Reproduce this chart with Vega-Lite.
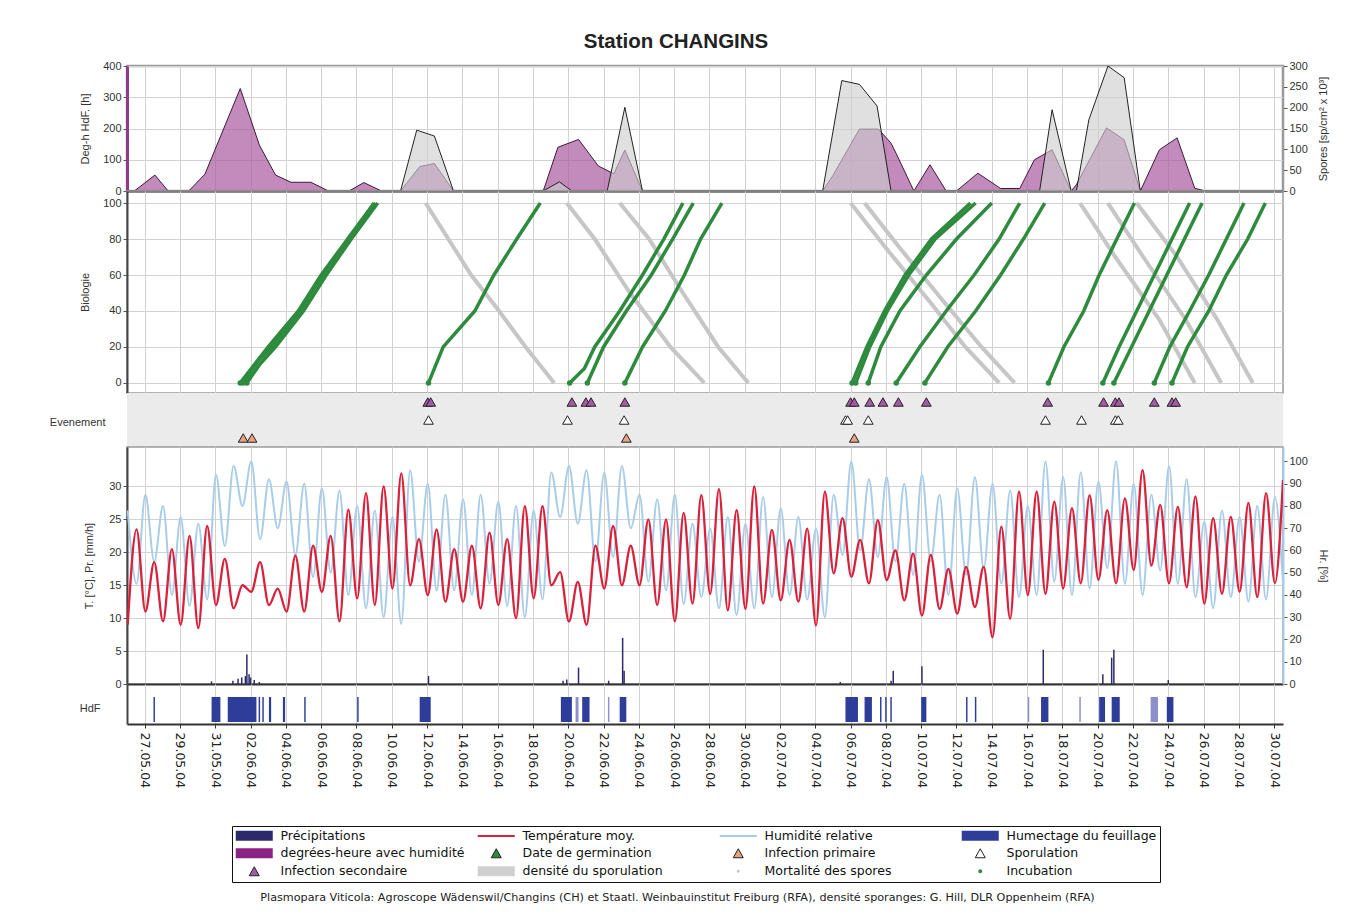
{
  "$schema": "https://vega.github.io/schema/vega-lite/v6.json",
  "padding": {"left": 49, "top": 32, "right": 5, "bottom": 5},
  "background": "#ffffff",
  "title": {"text": "Station CHANGINS", "frame": "group", "anchor": "middle", "dx": -29, "offset": 6, "font": "Liberation Sans", "fontSize": 20.5, "fontWeight": "bold", "color": "#222"},
  "spacing": 0,
  "bounds": "flush",
  "config": {
    "font": "Liberation Sans",
    "view": {"stroke": "#9a9a9a", "strokeWidth": 1.5},
    "axis": {"labelFont": "Liberation Sans", "labelFontSize": 11, "labelColor": "#333", "titleFont": "Liberation Sans", "titleFontSize": 11, "titleFontWeight": "normal", "titleColor": "#333", "gridColor": "#d2d2d2", "gridWidth": 1, "tickColor": "#555", "tickSize": 4, "domainColor": "#555", "labelOverlap": false}
  },
  "datasets": {
    "deg": [
      {"date": "2004-05-26T00:00", "v": 0}, {"date": "2004-05-26T10:00", "v": 0}, {"date": "2004-05-27T14:00", "v": 51}, {"date": "2004-05-28T08:00", "v": 0},
      {"date": "2004-05-29T12:00", "v": 0}, {"date": "2004-05-30T10:00", "v": 54}, {"date": "2004-06-01T10:00", "v": 328}, {"date": "2004-06-02T12:00", "v": 147},
      {"date": "2004-06-03T10:00", "v": 51}, {"date": "2004-06-04T07:00", "v": 28}, {"date": "2004-06-05T10:00", "v": 28}, {"date": "2004-06-06T10:00", "v": 0},
      {"date": "2004-06-07T14:00", "v": 0}, {"date": "2004-06-08T10:00", "v": 27}, {"date": "2004-06-09T10:00", "v": 0}, {"date": "2004-06-10T12:00", "v": 0},
      {"date": "2004-06-11T14:00", "v": 78}, {"date": "2004-06-12T10:00", "v": 88}, {"date": "2004-06-13T12:00", "v": 0}, {"date": "2004-06-18T14:00", "v": 0},
      {"date": "2004-06-19T10:00", "v": 140}, {"date": "2004-06-20T14:00", "v": 165}, {"date": "2004-06-21T17:00", "v": 80}, {"date": "2004-06-22T14:00", "v": 55},
      {"date": "2004-06-23T05:00", "v": 131}, {"date": "2004-06-24T05:00", "v": 0}, {"date": "2004-07-04T10:00", "v": 0}, {"date": "2004-07-05T00:00", "v": 50},
      {"date": "2004-07-06T12:00", "v": 198}, {"date": "2004-07-07T14:00", "v": 198}, {"date": "2004-07-08T07:00", "v": 153}, {"date": "2004-07-08T14:00", "v": 120},
      {"date": "2004-07-09T14:00", "v": 0}, {"date": "2004-07-10T12:00", "v": 84}, {"date": "2004-07-11T10:00", "v": 0}, {"date": "2004-07-12T00:00", "v": 0},
      {"date": "2004-07-13T05:00", "v": 57}, {"date": "2004-07-14T12:00", "v": 8}, {"date": "2004-07-15T14:00", "v": 8}, {"date": "2004-07-16T10:00", "v": 100},
      {"date": "2004-07-17T10:00", "v": 132}, {"date": "2004-07-18T12:00", "v": 0}, {"date": "2004-07-18T19:00", "v": 20}, {"date": "2004-07-20T12:00", "v": 202},
      {"date": "2004-07-21T12:00", "v": 164}, {"date": "2004-07-22T10:00", "v": 0}, {"date": "2004-07-23T12:00", "v": 132}, {"date": "2004-07-24T12:00", "v": 170},
      {"date": "2004-07-25T12:00", "v": 9}, {"date": "2004-07-26T02:00", "v": 0}, {"date": "2004-07-30T12:00", "v": 0}
    ],
    "spo": [
      {"date": "2004-06-10T12:00", "v": 0}, {"date": "2004-06-11T10:00", "v": 146}, {"date": "2004-06-12T10:00", "v": 132}, {"date": "2004-06-13T12:00", "v": 0},
      {"date": "2004-06-18T14:00", "v": 0}, {"date": "2004-06-19T12:00", "v": 22}, {"date": "2004-06-20T05:00", "v": 0}, {"date": "2004-06-22T05:00", "v": 0},
      {"date": "2004-06-23T05:00", "v": 201}, {"date": "2004-06-24T05:00", "v": 0}, {"date": "2004-07-04T10:00", "v": 0}, {"date": "2004-07-05T12:00", "v": 265},
      {"date": "2004-07-06T12:00", "v": 256}, {"date": "2004-07-07T12:00", "v": 204}, {"date": "2004-07-08T07:00", "v": 0}, {"date": "2004-07-16T17:00", "v": 0},
      {"date": "2004-07-17T10:00", "v": 195}, {"date": "2004-07-18T12:00", "v": 0}, {"date": "2004-07-18T19:00", "v": 0}, {"date": "2004-07-19T12:00", "v": 171},
      {"date": "2004-07-20T14:00", "v": 300}, {"date": "2004-07-21T12:00", "v": 272}, {"date": "2004-07-22T10:00", "v": 0}
    ],
    "bio": [
      {"id": "A1", "kind": "inc", "date": "2004-06-01T10:00", "v": 0}, {"id": "A1", "kind": "inc", "date": "2004-06-02T05:00", "v": 10}, {"id": "A1", "kind": "inc", "date": "2004-06-03T00:00", "v": 20}, {"id": "A1", "kind": "inc", "date": "2004-06-04T17:00", "v": 40}, {"id": "A1", "kind": "inc", "date": "2004-06-06T00:00", "v": 60}, {"id": "A1", "kind": "inc", "date": "2004-06-07T12:00", "v": 80}, {"id": "A1", "kind": "inc", "date": "2004-06-09T00:00", "v": 100},
      {"id": "A2", "kind": "inc", "date": "2004-06-01T19:00", "v": 0}, {"id": "A2", "kind": "inc", "date": "2004-06-02T12:00", "v": 10}, {"id": "A2", "kind": "inc", "date": "2004-06-03T10:00", "v": 20}, {"id": "A2", "kind": "inc", "date": "2004-06-05T00:00", "v": 40}, {"id": "A2", "kind": "inc", "date": "2004-06-06T07:00", "v": 60}, {"id": "A2", "kind": "inc", "date": "2004-06-07T17:00", "v": 80}, {"id": "A2", "kind": "inc", "date": "2004-06-09T05:00", "v": 100},
      {"id": "A3", "kind": "inc", "date": "2004-06-01T14:00", "v": 0}, {"id": "A3", "kind": "inc", "date": "2004-06-02T10:00", "v": 12}, {"id": "A3", "kind": "inc", "date": "2004-06-03T05:00", "v": 20}, {"id": "A3", "kind": "inc", "date": "2004-06-04T19:00", "v": 40}, {"id": "A3", "kind": "inc", "date": "2004-06-06T02:00", "v": 60}, {"id": "A3", "kind": "inc", "date": "2004-06-07T14:00", "v": 80}, {"id": "A3", "kind": "inc", "date": "2004-06-09T02:00", "v": 100},
      {"id": "B", "kind": "inc", "date": "2004-06-12T02:00", "v": 0}, {"id": "B", "kind": "inc", "date": "2004-06-12T22:00", "v": 20}, {"id": "B", "kind": "inc", "date": "2004-06-14T17:00", "v": 40}, {"id": "B", "kind": "inc", "date": "2004-06-15T19:00", "v": 60}, {"id": "B", "kind": "inc", "date": "2004-06-17T02:00", "v": 80}, {"id": "B", "kind": "inc", "date": "2004-06-18T10:00", "v": 100},
      {"id": "C1", "kind": "inc", "date": "2004-06-20T02:00", "v": 0}, {"id": "C1", "kind": "inc", "date": "2004-06-20T22:00", "v": 8}, {"id": "C1", "kind": "inc", "date": "2004-06-21T12:00", "v": 20}, {"id": "C1", "kind": "inc", "date": "2004-06-22T22:00", "v": 40}, {"id": "C1", "kind": "inc", "date": "2004-06-24T05:00", "v": 60}, {"id": "C1", "kind": "inc", "date": "2004-06-25T10:00", "v": 80}, {"id": "C1", "kind": "inc", "date": "2004-06-26T12:00", "v": 100},
      {"id": "C2", "kind": "inc", "date": "2004-06-21T02:00", "v": 0}, {"id": "C2", "kind": "inc", "date": "2004-06-22T00:00", "v": 20}, {"id": "C2", "kind": "inc", "date": "2004-06-23T07:00", "v": 40}, {"id": "C2", "kind": "inc", "date": "2004-06-24T17:00", "v": 60}, {"id": "C2", "kind": "inc", "date": "2004-06-25T22:00", "v": 80}, {"id": "C2", "kind": "inc", "date": "2004-06-27T02:00", "v": 100},
      {"id": "C3", "kind": "inc", "date": "2004-06-23T05:00", "v": 0}, {"id": "C3", "kind": "inc", "date": "2004-06-24T05:00", "v": 20}, {"id": "C3", "kind": "inc", "date": "2004-06-25T12:00", "v": 40}, {"id": "C3", "kind": "inc", "date": "2004-06-26T14:00", "v": 60}, {"id": "C3", "kind": "inc", "date": "2004-06-27T12:00", "v": 80}, {"id": "C3", "kind": "inc", "date": "2004-06-28T17:00", "v": 100},
      {"id": "L1", "kind": "inc", "date": "2004-07-06T02:00", "v": 0}, {"id": "L1", "kind": "inc", "date": "2004-07-06T22:00", "v": 20}, {"id": "L1", "kind": "inc", "date": "2004-07-07T22:00", "v": 40}, {"id": "L1", "kind": "inc", "date": "2004-07-09T02:00", "v": 60}, {"id": "L1", "kind": "inc", "date": "2004-07-10T14:00", "v": 80}, {"id": "L1", "kind": "inc", "date": "2004-07-12T19:00", "v": 100},
      {"id": "L1b", "kind": "inc", "date": "2004-07-06T07:00", "v": 0}, {"id": "L1b", "kind": "inc", "date": "2004-07-07T02:00", "v": 20}, {"id": "L1b", "kind": "inc", "date": "2004-07-08T02:00", "v": 40}, {"id": "L1b", "kind": "inc", "date": "2004-07-09T07:00", "v": 60}, {"id": "L1b", "kind": "inc", "date": "2004-07-10T19:00", "v": 80}, {"id": "L1b", "kind": "inc", "date": "2004-07-13T02:00", "v": 100},
      {"id": "L2", "kind": "inc", "date": "2004-07-07T00:00", "v": 0}, {"id": "L2", "kind": "inc", "date": "2004-07-07T17:00", "v": 20}, {"id": "L2", "kind": "inc", "date": "2004-07-08T19:00", "v": 40}, {"id": "L2", "kind": "inc", "date": "2004-07-10T07:00", "v": 60}, {"id": "L2", "kind": "inc", "date": "2004-07-12T00:00", "v": 80}, {"id": "L2", "kind": "inc", "date": "2004-07-14T00:00", "v": 100},
      {"id": "L3", "kind": "inc", "date": "2004-07-08T14:00", "v": 0}, {"id": "L3", "kind": "inc", "date": "2004-07-09T22:00", "v": 20}, {"id": "L3", "kind": "inc", "date": "2004-07-11T10:00", "v": 40}, {"id": "L3", "kind": "inc", "date": "2004-07-13T00:00", "v": 60}, {"id": "L3", "kind": "inc", "date": "2004-07-14T10:00", "v": 80}, {"id": "L3", "kind": "inc", "date": "2004-07-15T14:00", "v": 100},
      {"id": "L4", "kind": "inc", "date": "2004-07-10T05:00", "v": 0}, {"id": "L4", "kind": "inc", "date": "2004-07-11T12:00", "v": 20}, {"id": "L4", "kind": "inc", "date": "2004-07-13T02:00", "v": 40}, {"id": "L4", "kind": "inc", "date": "2004-07-14T12:00", "v": 60}, {"id": "L4", "kind": "inc", "date": "2004-07-15T19:00", "v": 80}, {"id": "L4", "kind": "inc", "date": "2004-07-17T00:00", "v": 100},
      {"id": "L5", "kind": "inc", "date": "2004-07-17T05:00", "v": 0}, {"id": "L5", "kind": "inc", "date": "2004-07-18T02:00", "v": 20}, {"id": "L5", "kind": "inc", "date": "2004-07-19T05:00", "v": 40}, {"id": "L5", "kind": "inc", "date": "2004-07-20T02:00", "v": 60}, {"id": "L5", "kind": "inc", "date": "2004-07-21T02:00", "v": 80}, {"id": "L5", "kind": "inc", "date": "2004-07-22T02:00", "v": 100},
      {"id": "L6", "kind": "inc", "date": "2004-07-20T07:00", "v": 0}, {"id": "L6", "kind": "inc", "date": "2004-07-21T05:00", "v": 20}, {"id": "L6", "kind": "inc", "date": "2004-07-22T05:00", "v": 40}, {"id": "L6", "kind": "inc", "date": "2004-07-23T05:00", "v": 60}, {"id": "L6", "kind": "inc", "date": "2004-07-24T05:00", "v": 80}, {"id": "L6", "kind": "inc", "date": "2004-07-25T05:00", "v": 100},
      {"id": "L7", "kind": "inc", "date": "2004-07-20T22:00", "v": 0}, {"id": "L7", "kind": "inc", "date": "2004-07-21T22:00", "v": 20}, {"id": "L7", "kind": "inc", "date": "2004-07-22T22:00", "v": 40}, {"id": "L7", "kind": "inc", "date": "2004-07-23T22:00", "v": 60}, {"id": "L7", "kind": "inc", "date": "2004-07-24T22:00", "v": 80}, {"id": "L7", "kind": "inc", "date": "2004-07-25T22:00", "v": 100},
      {"id": "L8", "kind": "inc", "date": "2004-07-23T05:00", "v": 0}, {"id": "L8", "kind": "inc", "date": "2004-07-24T02:00", "v": 20}, {"id": "L8", "kind": "inc", "date": "2004-07-25T05:00", "v": 40}, {"id": "L8", "kind": "inc", "date": "2004-07-26T07:00", "v": 60}, {"id": "L8", "kind": "inc", "date": "2004-07-27T07:00", "v": 80}, {"id": "L8", "kind": "inc", "date": "2004-07-28T07:00", "v": 100},
      {"id": "L9", "kind": "inc", "date": "2004-07-24T05:00", "v": 0}, {"id": "L9", "kind": "inc", "date": "2004-07-25T02:00", "v": 20}, {"id": "L9", "kind": "inc", "date": "2004-07-26T07:00", "v": 40}, {"id": "L9", "kind": "inc", "date": "2004-07-27T07:00", "v": 60}, {"id": "L9", "kind": "inc", "date": "2004-07-28T12:00", "v": 80}, {"id": "L9", "kind": "inc", "date": "2004-07-29T12:00", "v": 100},
      {"id": "S1", "kind": "spo", "date": "2004-06-11T22:00", "v": 100}, {"id": "S1", "kind": "spo", "date": "2004-06-14T12:00", "v": 60}, {"id": "S1", "kind": "spo", "date": "2004-06-16T02:00", "v": 40}, {"id": "S1", "kind": "spo", "date": "2004-06-17T14:00", "v": 20}, {"id": "S1", "kind": "spo", "date": "2004-06-19T05:00", "v": 0},
      {"id": "S2", "kind": "spo", "date": "2004-06-19T22:00", "v": 100}, {"id": "S2", "kind": "spo", "date": "2004-06-21T12:00", "v": 80}, {"id": "S2", "kind": "spo", "date": "2004-06-23T12:00", "v": 50}, {"id": "S2", "kind": "spo", "date": "2004-06-25T19:00", "v": 20}, {"id": "S2", "kind": "spo", "date": "2004-06-27T17:00", "v": 0},
      {"id": "S3", "kind": "spo", "date": "2004-06-22T22:00", "v": 100}, {"id": "S3", "kind": "spo", "date": "2004-06-24T14:00", "v": 80}, {"id": "S3", "kind": "spo", "date": "2004-06-26T12:00", "v": 50}, {"id": "S3", "kind": "spo", "date": "2004-06-28T12:00", "v": 20}, {"id": "S3", "kind": "spo", "date": "2004-06-30T05:00", "v": 0},
      {"id": "S4a", "kind": "spo", "date": "2004-07-06T00:00", "v": 100}, {"id": "S4a", "kind": "spo", "date": "2004-07-08T00:00", "v": 75}, {"id": "S4a", "kind": "spo", "date": "2004-07-10T12:00", "v": 45}, {"id": "S4a", "kind": "spo", "date": "2004-07-12T12:00", "v": 20}, {"id": "S4a", "kind": "spo", "date": "2004-07-14T10:00", "v": 0},
      {"id": "S4b", "kind": "spo", "date": "2004-07-06T19:00", "v": 100}, {"id": "S4b", "kind": "spo", "date": "2004-07-08T19:00", "v": 75}, {"id": "S4b", "kind": "spo", "date": "2004-07-11T07:00", "v": 45}, {"id": "S4b", "kind": "spo", "date": "2004-07-13T10:00", "v": 20}, {"id": "S4b", "kind": "spo", "date": "2004-07-15T07:00", "v": 0},
      {"id": "S5", "kind": "spo", "date": "2004-07-19T00:00", "v": 100}, {"id": "S5", "kind": "spo", "date": "2004-07-21T00:00", "v": 70}, {"id": "S5", "kind": "spo", "date": "2004-07-23T12:00", "v": 35}, {"id": "S5", "kind": "spo", "date": "2004-07-25T12:00", "v": 0},
      {"id": "S6", "kind": "spo", "date": "2004-07-20T14:00", "v": 100}, {"id": "S6", "kind": "spo", "date": "2004-07-22T14:00", "v": 70}, {"id": "S6", "kind": "spo", "date": "2004-07-25T00:00", "v": 35}, {"id": "S6", "kind": "spo", "date": "2004-07-27T00:00", "v": 0},
      {"id": "S7", "kind": "spo", "date": "2004-07-22T05:00", "v": 100}, {"id": "S7", "kind": "spo", "date": "2004-07-24T12:00", "v": 70}, {"id": "S7", "kind": "spo", "date": "2004-07-26T19:00", "v": 35}, {"id": "S7", "kind": "spo", "date": "2004-07-28T19:00", "v": 0}
    ],
    "evt": [
      {"date": "2004-06-01T14:00", "evt": "Infection primaire"}, {"date": "2004-06-02T02:00", "evt": "Infection primaire"}, {"date": "2004-06-23T07:00", "evt": "Infection primaire"}, {"date": "2004-07-06T05:00", "evt": "Infection primaire"},
      {"date": "2004-06-12T02:00", "evt": "Sporulation"}, {"date": "2004-06-19T23:00", "evt": "Sporulation"}, {"date": "2004-06-23T04:00", "evt": "Sporulation"}, {"date": "2004-07-05T17:00", "evt": "Sporulation"}, {"date": "2004-07-05T20:00", "evt": "Sporulation"},
      {"date": "2004-07-07T00:00", "evt": "Sporulation"}, {"date": "2004-07-17T01:00", "evt": "Sporulation"}, {"date": "2004-07-19T02:00", "evt": "Sporulation"}, {"date": "2004-07-21T00:00", "evt": "Sporulation"}, {"date": "2004-07-21T04:00", "evt": "Sporulation"},
      {"date": "2004-06-12T01:00", "evt": "Infection secondaire"}, {"date": "2004-06-12T05:00", "evt": "Infection secondaire"}, {"date": "2004-06-20T05:00", "evt": "Infection secondaire"}, {"date": "2004-06-21T00:00", "evt": "Infection secondaire"},
      {"date": "2004-06-21T07:00", "evt": "Infection secondaire"}, {"date": "2004-06-23T05:00", "evt": "Infection secondaire"}, {"date": "2004-07-06T00:00", "evt": "Infection secondaire"}, {"date": "2004-07-06T05:00", "evt": "Infection secondaire"},
      {"date": "2004-07-07T02:00", "evt": "Infection secondaire"}, {"date": "2004-07-07T20:00", "evt": "Infection secondaire"}, {"date": "2004-07-08T17:00", "evt": "Infection secondaire"}, {"date": "2004-07-10T07:00", "evt": "Infection secondaire"},
      {"date": "2004-07-17T04:00", "evt": "Infection secondaire"}, {"date": "2004-07-20T08:00", "evt": "Infection secondaire"}, {"date": "2004-07-21T00:00", "evt": "Infection secondaire"}, {"date": "2004-07-21T05:00", "evt": "Infection secondaire"},
      {"date": "2004-07-23T05:00", "evt": "Infection secondaire"}, {"date": "2004-07-24T05:00", "evt": "Infection secondaire"}, {"date": "2004-07-24T10:00", "evt": "Infection secondaire"}
    ],
    "meteo": [
      {"date": "2004-05-26T01:00", "t": 9, "h": 78}, {"date": "2004-05-26T13:00", "t": 23.5, "h": 45},
      {"date": "2004-05-27T01:00", "t": 11, "h": 85}, {"date": "2004-05-27T13:00", "t": 18.5, "h": 55},
      {"date": "2004-05-28T01:00", "t": 9.5, "h": 80}, {"date": "2004-05-28T13:00", "t": 20.5, "h": 40},
      {"date": "2004-05-29T01:00", "t": 9, "h": 75}, {"date": "2004-05-29T13:00", "t": 22.5, "h": 35},
      {"date": "2004-05-30T01:00", "t": 8.5, "h": 72}, {"date": "2004-05-30T13:00", "t": 24, "h": 38},
      {"date": "2004-05-31T01:00", "t": 12, "h": 94}, {"date": "2004-05-31T13:00", "t": 19, "h": 62},
      {"date": "2004-06-01T01:00", "t": 11.5, "h": 98}, {"date": "2004-06-01T13:00", "t": 15, "h": 80},
      {"date": "2004-06-02T01:00", "t": 14, "h": 100}, {"date": "2004-06-02T13:00", "t": 18.5, "h": 65},
      {"date": "2004-06-03T01:00", "t": 12, "h": 92}, {"date": "2004-06-03T13:00", "t": 14.5, "h": 70},
      {"date": "2004-06-04T01:00", "t": 11, "h": 91}, {"date": "2004-06-04T13:00", "t": 19.5, "h": 58},
      {"date": "2004-06-05T01:00", "t": 11, "h": 90}, {"date": "2004-06-05T13:00", "t": 21, "h": 48},
      {"date": "2004-06-06T01:00", "t": 14, "h": 88}, {"date": "2004-06-06T13:00", "t": 22.5, "h": 50},
      {"date": "2004-06-07T01:00", "t": 9.5, "h": 87}, {"date": "2004-06-07T13:00", "t": 26.5, "h": 40},
      {"date": "2004-06-08T01:00", "t": 13, "h": 80}, {"date": "2004-06-08T13:00", "t": 29, "h": 34},
      {"date": "2004-06-09T01:00", "t": 12, "h": 78}, {"date": "2004-06-09T13:00", "t": 30, "h": 30},
      {"date": "2004-06-10T01:00", "t": 14.5, "h": 75}, {"date": "2004-06-10T13:00", "t": 32, "h": 27},
      {"date": "2004-06-11T01:00", "t": 15, "h": 96}, {"date": "2004-06-11T13:00", "t": 22, "h": 55},
      {"date": "2004-06-12T01:00", "t": 13.5, "h": 90}, {"date": "2004-06-12T13:00", "t": 23.5, "h": 42},
      {"date": "2004-06-13T01:00", "t": 12.5, "h": 85}, {"date": "2004-06-13T13:00", "t": 20.5, "h": 42},
      {"date": "2004-06-14T01:00", "t": 12.5, "h": 83}, {"date": "2004-06-14T13:00", "t": 21, "h": 40},
      {"date": "2004-06-15T01:00", "t": 11.5, "h": 85}, {"date": "2004-06-15T13:00", "t": 23, "h": 45},
      {"date": "2004-06-16T01:00", "t": 12, "h": 82}, {"date": "2004-06-16T13:00", "t": 22, "h": 35},
      {"date": "2004-06-17T01:00", "t": 10, "h": 80}, {"date": "2004-06-17T13:00", "t": 27, "h": 30},
      {"date": "2004-06-18T01:00", "t": 13, "h": 78}, {"date": "2004-06-18T13:00", "t": 27, "h": 38},
      {"date": "2004-06-19T01:00", "t": 15, "h": 95}, {"date": "2004-06-19T13:00", "t": 17, "h": 75},
      {"date": "2004-06-20T01:00", "t": 9.5, "h": 98}, {"date": "2004-06-20T13:00", "t": 15.5, "h": 72},
      {"date": "2004-06-21T01:00", "t": 9, "h": 96}, {"date": "2004-06-21T13:00", "t": 21, "h": 55},
      {"date": "2004-06-22T01:00", "t": 14.5, "h": 95}, {"date": "2004-06-22T13:00", "t": 24, "h": 57},
      {"date": "2004-06-23T01:00", "t": 15, "h": 98}, {"date": "2004-06-23T13:00", "t": 21, "h": 70},
      {"date": "2004-06-24T01:00", "t": 15, "h": 85}, {"date": "2004-06-24T13:00", "t": 25, "h": 46},
      {"date": "2004-06-25T01:00", "t": 12, "h": 83}, {"date": "2004-06-25T13:00", "t": 25, "h": 42},
      {"date": "2004-06-26T01:00", "t": 9.5, "h": 85}, {"date": "2004-06-26T13:00", "t": 26, "h": 36},
      {"date": "2004-06-27T01:00", "t": 12.2, "h": 72}, {"date": "2004-06-27T13:00", "t": 28.7, "h": 39},
      {"date": "2004-06-28T01:00", "t": 13.7, "h": 70}, {"date": "2004-06-28T13:00", "t": 29.6, "h": 34},
      {"date": "2004-06-29T01:00", "t": 11.2, "h": 75}, {"date": "2004-06-29T13:00", "t": 26.4, "h": 31},
      {"date": "2004-06-30T01:00", "t": 11.4, "h": 72}, {"date": "2004-06-30T13:00", "t": 30, "h": 34},
      {"date": "2004-07-01T01:00", "t": 12.2, "h": 84}, {"date": "2004-07-01T13:00", "t": 23.4, "h": 39},
      {"date": "2004-07-02T01:00", "t": 12.7, "h": 79}, {"date": "2004-07-02T13:00", "t": 21.9, "h": 40},
      {"date": "2004-07-03T01:00", "t": 12.5, "h": 75}, {"date": "2004-07-03T13:00", "t": 23.6, "h": 38},
      {"date": "2004-07-04T01:00", "t": 8.9, "h": 70}, {"date": "2004-07-04T13:00", "t": 29.2, "h": 30},
      {"date": "2004-07-05T01:00", "t": 16.8, "h": 85}, {"date": "2004-07-05T13:00", "t": 25.2, "h": 58},
      {"date": "2004-07-06T01:00", "t": 16.3, "h": 100}, {"date": "2004-07-06T13:00", "t": 21.9, "h": 60},
      {"date": "2004-07-07T01:00", "t": 15.3, "h": 92}, {"date": "2004-07-07T13:00", "t": 24.9, "h": 57},
      {"date": "2004-07-08T01:00", "t": 15.8, "h": 93}, {"date": "2004-07-08T13:00", "t": 20.3, "h": 55},
      {"date": "2004-07-09T01:00", "t": 12.7, "h": 90}, {"date": "2004-07-09T13:00", "t": 19.8, "h": 49},
      {"date": "2004-07-10T01:00", "t": 10.4, "h": 94}, {"date": "2004-07-10T13:00", "t": 19.6, "h": 55},
      {"date": "2004-07-11T01:00", "t": 11.4, "h": 85}, {"date": "2004-07-11T13:00", "t": 17.5, "h": 40},
      {"date": "2004-07-12T01:00", "t": 10.7, "h": 88}, {"date": "2004-07-12T13:00", "t": 17.8, "h": 49},
      {"date": "2004-07-13T01:00", "t": 11.7, "h": 93}, {"date": "2004-07-13T13:00", "t": 17.8, "h": 52},
      {"date": "2004-07-14T01:00", "t": 7.1, "h": 90}, {"date": "2004-07-14T13:00", "t": 23.9, "h": 45},
      {"date": "2004-07-15T01:00", "t": 9.9, "h": 87}, {"date": "2004-07-15T13:00", "t": 29.2, "h": 39},
      {"date": "2004-07-16T01:00", "t": 13.5, "h": 80}, {"date": "2004-07-16T13:00", "t": 29.2, "h": 40},
      {"date": "2004-07-17T01:00", "t": 13.7, "h": 100}, {"date": "2004-07-17T13:00", "t": 27.7, "h": 46},
      {"date": "2004-07-18T01:00", "t": 14.5, "h": 93}, {"date": "2004-07-18T13:00", "t": 26.7, "h": 40},
      {"date": "2004-07-19T01:00", "t": 15.3, "h": 95}, {"date": "2004-07-19T13:00", "t": 28.7, "h": 43},
      {"date": "2004-07-20T01:00", "t": 15.8, "h": 91}, {"date": "2004-07-20T13:00", "t": 26.4, "h": 52},
      {"date": "2004-07-21T01:00", "t": 15.3, "h": 100}, {"date": "2004-07-21T13:00", "t": 28.2, "h": 45},
      {"date": "2004-07-22T01:00", "t": 17.3, "h": 90}, {"date": "2004-07-22T13:00", "t": 32.5, "h": 40},
      {"date": "2004-07-23T01:00", "t": 18, "h": 85}, {"date": "2004-07-23T13:00", "t": 27.2, "h": 51},
      {"date": "2004-07-24T01:00", "t": 15.3, "h": 98}, {"date": "2004-07-24T13:00", "t": 26.9, "h": 45},
      {"date": "2004-07-25T01:00", "t": 14.7, "h": 92}, {"date": "2004-07-25T13:00", "t": 28.5, "h": 39},
      {"date": "2004-07-26T01:00", "t": 12.2, "h": 73}, {"date": "2004-07-26T13:00", "t": 25.2, "h": 34},
      {"date": "2004-07-27T01:00", "t": 13.7, "h": 78}, {"date": "2004-07-27T13:00", "t": 25.4, "h": 39},
      {"date": "2004-07-28T01:00", "t": 14, "h": 75}, {"date": "2004-07-28T13:00", "t": 27.5, "h": 37},
      {"date": "2004-07-29T01:00", "t": 13.2, "h": 80}, {"date": "2004-07-29T13:00", "t": 29, "h": 38},
      {"date": "2004-07-30T01:00", "t": 15.3, "h": 84}, {"date": "2004-07-30T12:00", "t": 31, "h": 45}
    ],
    "prec": [
      {"date": "2004-05-30T19:00", "p": 0.4}, {"date": "2004-06-01T00:00", "p": 0.5}, {"date": "2004-06-01T07:00", "p": 0.8}, {"date": "2004-06-01T12:00", "p": 1.0},
      {"date": "2004-06-01T17:00", "p": 1.2}, {"date": "2004-06-01T19:00", "p": 4.5}, {"date": "2004-06-01T22:00", "p": 1.5}, {"date": "2004-06-02T00:00", "p": 1.0},
      {"date": "2004-06-02T05:00", "p": 0.6}, {"date": "2004-06-02T12:00", "p": 0.3}, {"date": "2004-06-12T02:00", "p": 1.2}, {"date": "2004-06-19T17:00", "p": 0.5},
      {"date": "2004-06-19T22:00", "p": 0.7}, {"date": "2004-06-20T14:00", "p": 2.5}, {"date": "2004-06-22T07:00", "p": 0.5}, {"date": "2004-06-23T02:00", "p": 7.0},
      {"date": "2004-06-23T04:00", "p": 2.0}, {"date": "2004-07-05T10:00", "p": 0.3}, {"date": "2004-07-08T07:00", "p": 0.5}, {"date": "2004-07-08T10:00", "p": 2.0},
      {"date": "2004-07-10T01:00", "p": 2.7}, {"date": "2004-07-16T22:00", "p": 5.2}, {"date": "2004-07-20T07:00", "p": 1.5}, {"date": "2004-07-20T19:00", "p": 4.0},
      {"date": "2004-07-20T22:00", "p": 5.2}, {"date": "2004-07-24T00:00", "p": 0.6}
    ],
    "hdf": [
      {"start": "2004-05-27T12:00", "end": "2004-05-27T14:00", "level": "complet"}, {"start": "2004-05-30T19:00", "end": "2004-05-31T07:00", "level": "complet"},
      {"start": "2004-05-31T17:00", "end": "2004-06-02T08:00", "level": "complet"}, {"start": "2004-06-02T11:00", "end": "2004-06-02T13:00", "level": "complet"},
      {"start": "2004-06-02T16:00", "end": "2004-06-02T18:00", "level": "complet"}, {"start": "2004-06-03T01:00", "end": "2004-06-03T04:00", "level": "complet"},
      {"start": "2004-06-03T20:00", "end": "2004-06-03T23:00", "level": "complet"}, {"start": "2004-06-05T01:00", "end": "2004-06-05T03:00", "level": "complet"},
      {"start": "2004-06-08T01:00", "end": "2004-06-08T03:00", "level": "complet"}, {"start": "2004-06-11T14:00", "end": "2004-06-12T05:00", "level": "complet"},
      {"start": "2004-06-19T14:00", "end": "2004-06-20T05:00", "level": "complet"}, {"start": "2004-06-20T10:00", "end": "2004-06-20T14:00", "level": "partiel"},
      {"start": "2004-06-20T19:00", "end": "2004-06-21T05:00", "level": "complet"}, {"start": "2004-06-22T06:00", "end": "2004-06-22T08:00", "level": "partiel"},
      {"start": "2004-06-22T22:00", "end": "2004-06-23T07:00", "level": "complet"}, {"start": "2004-07-05T17:00", "end": "2004-07-06T10:00", "level": "complet"},
      {"start": "2004-07-06T19:00", "end": "2004-07-07T05:00", "level": "complet"}, {"start": "2004-07-07T16:00", "end": "2004-07-07T18:00", "level": "complet"},
      {"start": "2004-07-07T23:00", "end": "2004-07-08T01:00", "level": "complet"}, {"start": "2004-07-08T06:00", "end": "2004-07-08T08:00", "level": "complet"},
      {"start": "2004-07-10T00:00", "end": "2004-07-10T07:00", "level": "complet"}, {"start": "2004-07-12T13:00", "end": "2004-07-12T15:00", "level": "complet"},
      {"start": "2004-07-13T01:00", "end": "2004-07-13T03:00", "level": "complet"}, {"start": "2004-07-16T01:00", "end": "2004-07-16T03:00", "level": "partiel"},
      {"start": "2004-07-16T19:00", "end": "2004-07-17T05:00", "level": "complet"}, {"start": "2004-07-18T23:00", "end": "2004-07-19T01:00", "level": "partiel"},
      {"start": "2004-07-20T02:00", "end": "2004-07-20T10:00", "level": "complet"}, {"start": "2004-07-20T19:00", "end": "2004-07-21T06:00", "level": "complet"},
      {"start": "2004-07-23T00:00", "end": "2004-07-23T10:00", "level": "partiel"}, {"start": "2004-07-23T22:00", "end": "2004-07-24T07:00", "level": "complet"}
    ]
  },
  "vconcat": [
    {
      "width": 1156, "height": 125,
      "view": {"stroke": "#9a9a9a", "strokeWidth": 2.5},
      "encoding": {
        "x": {"field": "date", "type": "temporal", "scale": {"domain": [{"year": 2004, "month": 5, "date": 26}, {"year": 2004, "month": 7, "date": 30, "hours": 12}]},
          "axis": {"values": [{"year":2004,"month":5,"date":27},{"year":2004,"month":5,"date":29},{"year":2004,"month":5,"date":31},{"year":2004,"month":6,"date":2},{"year":2004,"month":6,"date":4},{"year":2004,"month":6,"date":6},{"year":2004,"month":6,"date":8},{"year":2004,"month":6,"date":10},{"year":2004,"month":6,"date":12},{"year":2004,"month":6,"date":14},{"year":2004,"month":6,"date":16},{"year":2004,"month":6,"date":18},{"year":2004,"month":6,"date":20},{"year":2004,"month":6,"date":22},{"year":2004,"month":6,"date":24},{"year":2004,"month":6,"date":26},{"year":2004,"month":6,"date":28},{"year":2004,"month":6,"date":30},{"year":2004,"month":7,"date":2},{"year":2004,"month":7,"date":4},{"year":2004,"month":7,"date":6},{"year":2004,"month":7,"date":8},{"year":2004,"month":7,"date":10},{"year":2004,"month":7,"date":12},{"year":2004,"month":7,"date":14},{"year":2004,"month":7,"date":16},{"year":2004,"month":7,"date":18},{"year":2004,"month":7,"date":20},{"year":2004,"month":7,"date":22},{"year":2004,"month":7,"date":24},{"year":2004,"month":7,"date":26},{"year":2004,"month":7,"date":28},{"year":2004,"month":7,"date":30}],
            "labels": false, "ticks": false, "domain": true, "domainColor": "#333", "domainWidth": 2, "title": null, "grid": true}}
      },
      "layer": [
        {"data": {"name": "deg"}, "mark": {"type": "area", "color": "#a9589f", "clip": true, "line": {"color": "#3d1a3b", "strokeWidth": 1}},
          "encoding": {"y": {"field": "v", "type": "quantitative", "scale": {"domain": [0, 400], "nice": false}, "axis": {"values": [0, 100, 200, 300, 400], "title": "Deg-h HdF. [h]", "titlePadding": 12, "domainColor": "#8e3b8b", "domainWidth": 3, "grid": true}}}},
        {"data": {"name": "spo"}, "mark": {"type": "area", "color": "#cdcdcd", "fillOpacity": 0.62, "clip": true, "line": {"color": "#222", "strokeWidth": 1}},
          "encoding": {"y": {"field": "v", "type": "quantitative", "scale": {"domain": [0, 300], "nice": false}, "axis": {"orient": "right", "values": [0, 50, 100, 150, 200, 250, 300], "title": "Spores [sp/cm² x 10³]", "titleAngle": 270, "titleBaseline": "top", "titlePadding": 10, "grid": false, "domainColor": "#999"}}}},
        {"data": {"values": [{}]}, "mark": {"type": "rule", "color": "#8b2a88", "strokeWidth": 2, "strokeDash": [7, 4, 2, 4]},
          "encoding": {"y": {"datum": 50, "type": "quantitative", "scale": {"domain": [0, 400], "nice": false}, "axis": null}}}
      ],
      "resolve": {"scale": {"y": "independent"}}
    },
    {
      "width": 1156, "height": 202,
      "data": {"name": "bio"},
      "encoding": {
        "x": {"field": "date", "type": "temporal", "scale": {"domain": [{"year": 2004, "month": 5, "date": 26}, {"year": 2004, "month": 7, "date": 30, "hours": 12}]},
          "axis": {"values": [{"year":2004,"month":5,"date":27},{"year":2004,"month":5,"date":29},{"year":2004,"month":5,"date":31},{"year":2004,"month":6,"date":2},{"year":2004,"month":6,"date":4},{"year":2004,"month":6,"date":6},{"year":2004,"month":6,"date":8},{"year":2004,"month":6,"date":10},{"year":2004,"month":6,"date":12},{"year":2004,"month":6,"date":14},{"year":2004,"month":6,"date":16},{"year":2004,"month":6,"date":18},{"year":2004,"month":6,"date":20},{"year":2004,"month":6,"date":22},{"year":2004,"month":6,"date":24},{"year":2004,"month":6,"date":26},{"year":2004,"month":6,"date":28},{"year":2004,"month":6,"date":30},{"year":2004,"month":7,"date":2},{"year":2004,"month":7,"date":4},{"year":2004,"month":7,"date":6},{"year":2004,"month":7,"date":8},{"year":2004,"month":7,"date":10},{"year":2004,"month":7,"date":12},{"year":2004,"month":7,"date":14},{"year":2004,"month":7,"date":16},{"year":2004,"month":7,"date":18},{"year":2004,"month":7,"date":20},{"year":2004,"month":7,"date":22},{"year":2004,"month":7,"date":24},{"year":2004,"month":7,"date":26},{"year":2004,"month":7,"date":28},{"year":2004,"month":7,"date":30}],
            "labels": false, "ticks": false, "domain": false, "title": null, "grid": true}}
      },
      "layer": [
        {"transform": [{"filter": "datum.kind === 'spo'"}], "mark": {"type": "line", "color": "#c6c6c6", "strokeWidth": 4, "clip": true},
          "encoding": {"y": {"field": "v", "type": "quantitative", "scale": {"domain": [-5.6, 106.7], "nice": false, "zero": false}, "axis": {"values": [0, 20, 40, 60, 80, 100], "title": "Biologie", "titlePadding": 12, "domainColor": "#444", "domainWidth": 2, "grid": true}}, "detail": {"field": "id"}}},
        {"transform": [{"filter": "datum.kind === 'inc'"}], "mark": {"type": "line", "color": "#2e8b3e", "strokeWidth": 3.5, "clip": true},
          "encoding": {"y": {"field": "v", "type": "quantitative"}, "detail": {"field": "id"}}},
        {"data": {"values": [{}]}, "mark": {"type": "rule", "color": "#333", "strokeWidth": 2}, "encoding": {"y": {"datum": 0, "type": "quantitative"}}},
        {"transform": [{"filter": "datum.kind === 'inc' && datum.v === 0"}], "mark": {"type": "point", "filled": true, "color": "#2e8b3e", "size": 30, "opacity": 1},
          "encoding": {"y": {"field": "v", "type": "quantitative"}}}
      ]
    },
    {
      "width": 1156, "height": 54,
      "view": {"stroke": null},
      "layer": [
        {"data": {"values": [{}]}, "mark": {"type": "rect", "color": "#ebebeb"},
          "encoding": {
            "x": {"datum": {"year": 2004, "month": 5, "date": 26}, "type": "temporal", "scale": {"domain": [{"year": 2004, "month": 5, "date": 26}, {"year": 2004, "month": 7, "date": 30, "hours": 12}]}, "axis": null},
            "x2": {"datum": {"year": 2004, "month": 7, "date": 30, "hours": 12}}
          }},
        {"data": {"name": "evt"}, "mark": {"type": "point", "shape": "triangle-up", "filled": true, "size": 95, "stroke": "#222", "strokeWidth": 1, "opacity": 1},
          "encoding": {
            "x": {"field": "date", "type": "temporal"},
            "y": {"field": "evt", "type": "nominal", "scale": {"type": "point", "domain": ["Infection secondaire", "Sporulation", "Infection primaire"], "padding": 0.5},
              "axis": {"labels": false, "ticks": false, "domain": false, "grid": false, "title": "Evenement", "titleAngle": 0, "titleAlign": "right", "titleBaseline": "middle", "titleX": -22, "titleY": 29}},
            "color": {"field": "evt", "type": "nominal", "scale": {"domain": ["Infection secondaire", "Sporulation", "Infection primaire"], "range": ["#a45aa8", "#ffffff", "#e8a283"]}, "legend": null}
          }}
      ]
    },
    {
      "width": 1156, "height": 237,
      "encoding": {
        "x": {"field": "date", "type": "temporal", "scale": {"domain": [{"year": 2004, "month": 5, "date": 26}, {"year": 2004, "month": 7, "date": 30, "hours": 12}]},
          "axis": {"values": [{"year":2004,"month":5,"date":27},{"year":2004,"month":5,"date":29},{"year":2004,"month":5,"date":31},{"year":2004,"month":6,"date":2},{"year":2004,"month":6,"date":4},{"year":2004,"month":6,"date":6},{"year":2004,"month":6,"date":8},{"year":2004,"month":6,"date":10},{"year":2004,"month":6,"date":12},{"year":2004,"month":6,"date":14},{"year":2004,"month":6,"date":16},{"year":2004,"month":6,"date":18},{"year":2004,"month":6,"date":20},{"year":2004,"month":6,"date":22},{"year":2004,"month":6,"date":24},{"year":2004,"month":6,"date":26},{"year":2004,"month":6,"date":28},{"year":2004,"month":6,"date":30},{"year":2004,"month":7,"date":2},{"year":2004,"month":7,"date":4},{"year":2004,"month":7,"date":6},{"year":2004,"month":7,"date":8},{"year":2004,"month":7,"date":10},{"year":2004,"month":7,"date":12},{"year":2004,"month":7,"date":14},{"year":2004,"month":7,"date":16},{"year":2004,"month":7,"date":18},{"year":2004,"month":7,"date":20},{"year":2004,"month":7,"date":22},{"year":2004,"month":7,"date":24},{"year":2004,"month":7,"date":26},{"year":2004,"month":7,"date":28},{"year":2004,"month":7,"date":30}],
            "labels": false, "ticks": false, "domain": true, "domainColor": "#333", "domainWidth": 2, "title": null, "grid": true}}
      },
      "layer": [
        {"data": {"name": "meteo"}, "mark": {"type": "line", "color": "#a9cde9", "strokeWidth": 2, "interpolate": "monotone", "clip": true},
          "encoding": {"y": {"field": "h", "type": "quantitative", "scale": {"domain": [0, 106.5], "nice": false}, "axis": {"orient": "right", "values": [0, 10, 20, 30, 40, 50, 60, 70, 80, 90, 100], "title": "Hr. [%]", "titleAngle": 90, "titlePadding": 10, "grid": false, "domainColor": "#a9cde9", "domainWidth": 2}}}},
        {"data": {"name": "prec"}, "mark": {"type": "rule", "color": "#2d2a6b", "strokeWidth": 1.5},
          "encoding": {"y": {"field": "p", "type": "quantitative", "scale": {"domain": [0, 36], "nice": false}, "axis": null}, "y2": {"datum": 0}}},
        {"data": {"name": "meteo"}, "mark": {"type": "line", "color": "#d9213b", "strokeWidth": 2.3, "interpolate": "monotone", "clip": true},
          "encoding": {"y": {"field": "t", "type": "quantitative", "scale": {"domain": [0, 36], "nice": false}, "axis": {"values": [0, 5, 10, 15, 20, 25, 30], "title": "T. [°C], Pr. [mm/h]", "titlePadding": 14, "grid": true, "domainColor": "#444", "domainWidth": 2}}}}
      ],
      "resolve": {"scale": {"y": "independent"}}
    },
    {
      "width": 1156, "height": 40,
      "view": {"stroke": null},
      "encoding": {
        "x": {"field": "start", "type": "temporal", "scale": {"domain": [{"year": 2004, "month": 5, "date": 26}, {"year": 2004, "month": 7, "date": 30, "hours": 12}]},
          "axis": {"values": [{"year":2004,"month":5,"date":27},{"year":2004,"month":5,"date":29},{"year":2004,"month":5,"date":31},{"year":2004,"month":6,"date":2},{"year":2004,"month":6,"date":4},{"year":2004,"month":6,"date":6},{"year":2004,"month":6,"date":8},{"year":2004,"month":6,"date":10},{"year":2004,"month":6,"date":12},{"year":2004,"month":6,"date":14},{"year":2004,"month":6,"date":16},{"year":2004,"month":6,"date":18},{"year":2004,"month":6,"date":20},{"year":2004,"month":6,"date":22},{"year":2004,"month":6,"date":24},{"year":2004,"month":6,"date":26},{"year":2004,"month":6,"date":28},{"year":2004,"month":6,"date":30},{"year":2004,"month":7,"date":2},{"year":2004,"month":7,"date":4},{"year":2004,"month":7,"date":6},{"year":2004,"month":7,"date":8},{"year":2004,"month":7,"date":10},{"year":2004,"month":7,"date":12},{"year":2004,"month":7,"date":14},{"year":2004,"month":7,"date":16},{"year":2004,"month":7,"date":18},{"year":2004,"month":7,"date":20},{"year":2004,"month":7,"date":22},{"year":2004,"month":7,"date":24},{"year":2004,"month":7,"date":26},{"year":2004,"month":7,"date":28},{"year":2004,"month":7,"date":30}],
            "format": "%d.%m.%y", "labelAngle": 90, "labelAlign": "left", "labelBaseline": "middle", "labelPadding": 4, "labelFont": "DejaVu Sans", "labelFontSize": 12.5, "labelColor": "#222",
            "labelFlush": false, "labelOverlap": false, "labelSeparation": 0, "ticks": true, "tickSize": 4, "tickColor": "#333", "domain": true, "domainColor": "#333", "domainWidth": 2, "grid": true,
            "title": "Plasmopara Viticola: Agroscope Wädenswil/Changins (CH) et Staatl. Weinbauinstitut Freiburg (RFA), densité sporanges: G. Hill, DLR Oppenheim (RFA)",
            "titleFont": "DejaVu Sans", "titleFontSize": 11.2, "titleColor": "#222", "titlePadding": 104, "titleX": 550, "titleAlign": "center"}}
      },
      "layer": [
        {"data": {"values": [{}]}, "mark": {"type": "rect", "color": "#ebebeb"},
          "encoding": {
            "x": {"datum": {"year": 2004, "month": 5, "date": 26}, "type": "temporal"},
            "x2": {"datum": {"year": 2004, "month": 7, "date": 30, "hours": 12}},
            "y": {"datum": 0.05, "type": "quantitative", "scale": {"domain": [0, 1], "nice": false},
              "axis": {"labels": false, "ticks": false, "grid": false, "domain": true, "domainColor": "#444", "domainWidth": 2, "title": "HdF", "titleAngle": 0, "titleAlign": "right", "titleBaseline": "middle", "titleX": -27, "titleY": 24}},
            "y2": {"datum": 0.675}
          }},
        {"data": {"name": "hdf"}, "transform": [{"filter": "datum.level === 'partiel'"}], "mark": {"type": "rect", "color": "#8d8fcc"},
          "encoding": {"x2": {"field": "end"}, "y": {"datum": 0.05, "type": "quantitative"}, "y2": {"datum": 0.675}}},
        {"data": {"name": "hdf"}, "transform": [{"filter": "datum.level === 'complet'"}], "mark": {"type": "rect", "color": "#2e3d99"},
          "encoding": {"x2": {"field": "end"}, "y": {"datum": 0.05, "type": "quantitative"}, "y2": {"datum": 0.675}}},
        {"data": {"values": []}, "mark": {"type": "point", "filled": true, "opacity": 1, "strokeWidth": 1},
          "encoding": {
            "x": {"field": "start", "type": "temporal"},
            "fill": {"field": "serie", "type": "nominal",
              "scale": {"domain": ["Précipitations", "Température moy.", "Humidité relative", "Humectage du feuillage", "degrées-heure avec humidité", "Date de germination", "Infection primaire", "Sporulation", "Infection secondaire", "densité du sporulation", "Mortalité des spores", "Incubation"],
                "range": ["#2d2a6b", "#d9213b", "#a9cde9", "#2e3d99", "#8a2285", "#2e8b3e", "#e8a283", "#ffffff", "#a45aa8", "#cfcfcf", "#c8c8c8", "#2e8b3e"]},
              "legend": {"title": null, "orient": "none", "legendX": 105, "legendY": 760, "columns": 4, "direction": "horizontal", "symbolSize": 100, "symbolStrokeWidth": 1,
                "symbolOffset": 13, "labelOffset": 20, "labelFont": "DejaVu Sans", "labelFontSize": 12.5, "labelColor": "#111", "labelLimit": 400, "rowPadding": 3, "columnPadding": 10,
                "gridAlign": "all", "padding": 3, "strokeColor": "#111", "fillColor": "#ffffff",
                "encode": {"legend": {"update": {"strokeWidth": {"value": 2}}}}}},
            "stroke": {"field": "serie", "type": "nominal",
              "scale": {"domain": ["Précipitations", "Température moy.", "Humidité relative", "Humectage du feuillage", "degrées-heure avec humidité", "Date de germination", "Infection primaire", "Sporulation", "Infection secondaire", "densité du sporulation", "Mortalité des spores", "Incubation"],
                "range": ["transparent", "transparent", "transparent", "transparent", "transparent", "#222222", "#222222", "#222222", "#222222", "transparent", "transparent", "transparent"]}},
            "shape": {"field": "serie", "type": "nominal",
              "scale": {"domain": ["Précipitations", "Température moy.", "Humidité relative", "Humectage du feuillage", "degrées-heure avec humidité", "Date de germination", "Infection primaire", "Sporulation", "Infection secondaire", "densité du sporulation", "Mortalité des spores", "Incubation"],
                "range": ["M-3.7,-1H3.7V1H-3.7Z", "M-3.7,-0.2H3.7V0.2H-3.7Z", "M-3.7,-0.2H3.7V0.2H-3.7Z", "M-3.7,-1H3.7V1H-3.7Z", "M-3.7,-1H3.7V1H-3.7Z", "M0,-0.9L1,0.9L-1,0.9Z", "M0,-0.9L1,0.9L-1,0.9Z", "M0,-0.9L1,0.9L-1,0.9Z", "M0,-0.9L1,0.9L-1,0.9Z", "M-3.7,-1H3.7V1H-3.7Z", "M-0.3,0A0.3,0.3,0,1,0,0.3,0A0.3,0.3,0,1,0,-0.3,0Z", "M-0.4,0A0.4,0.4,0,1,0,0.4,0A0.4,0.4,0,1,0,-0.4,0Z"]}}
          }}
      ]
    }
  ]
}
